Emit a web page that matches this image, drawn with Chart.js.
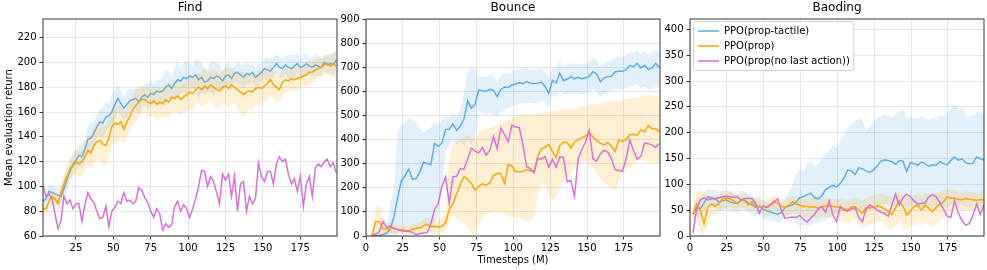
<!DOCTYPE html>
<html><head><meta charset="utf-8">
<script src="https://cdn.jsdelivr.net/npm/chart.js@4.4.1/dist/chart.umd.min.js"></script>
<style>
html,body{margin:0;padding:0;background:#fff;}
body{width:987px;height:270px;position:relative;overflow:hidden;}
canvas{position:absolute;top:0;}
</style>
</head><body>
<canvas id="c1" width="340" height="270" style="left:0px"></canvas>
<canvas id="c2" width="323" height="270" style="left:340px"></canvas>
<canvas id="c3" width="324" height="270" style="left:663px"></canvas>
<script>
const panelTitles = ['Find', 'Bounce', 'Baoding'];
const seriesLabels = ['PPO(prop-tactile)', 'PPO(prop)', 'PPO(prop(no last action))'];
const xAxisLabel = 'Timesteps (M)';
const yAxisLabel = 'Mean evaluation return';

const findXTicks = [25, 50, 75, 100, 125, 150, 175];
const findYTicks = [60, 80, 100, 120, 140, 160, 180, 200, 220];
const bounceXTicks = [0, 25, 50, 75, 100, 125, 150, 175];
const bounceYTicks = [0, 100, 200, 300, 400, 500, 600, 700, 800, 900];
const baodingXTicks = [0, 25, 50, 75, 100, 125, 150, 175];
const baodingYTicks = [0, 50, 100, 150, 200, 250, 300, 350, 400];

// ---- Find ----
const findSteps = [3,5,7,9,11,13,15,17,19,21, 23,25,27,29,31,33,35,37,39,41, 43,45,47,49,51,53,55,57,59,61, 63,65,67,69,71,73,75,77,79,81, 83,85,87,89,91,93,95,97,99,101, 103,105,107,109,111,113,115,117,119,121, 123,125,127,129,131,133,135,137,139,141, 143,145,147,149,151,153,155,157,159,161, 163,165,167,169,171,173,175,177,179,181, 183,185,187,189,191,193,195,197,199];
const findTactile = [88,90,96,95,94,93,92,98,106,112, 118,121,125,124,130,138,139,143,148,152, 151,156,157,160,166,171,167,163,166,169, 170,171,168,172,174,172,175,174,177,176, 177,180,182,179,183,186,185,188,187,189, 188,190,186,188,184,185,188,187,189,188, 185,189,190,187,191,192,190,188,191,190, 192,188,190,192,195,194,193,196,199,196, 195,198,196,195,197,199,196,197,199,197, 196,198,197,196,200,198,199,198,202];
const findTactileSpread = [4,5,6,6,5,6,7,8,8,7, 8,9,8,10,9,11,12,10,9,11, 13,12,10,14,12,11,10,9,11,10, 8,9,10,8,9,11,10,8,9,10, 12,14,11,9,13,15,10,12,14,11, 9,13,16,12,10,9,12,14,11,10, 8,9,10,8,7,9,8,10,9,8, 7,8,9,7,8,10,9,8,7,9, 8,7,10,12,9,8,7,8,9,7, 8,9,8,7,6,8,7,9,8];
const findProp = [82,82,88,92,90,86,95,102,108,114, 116,120,118,120,124,129,127,133,136,137, 134,133,139,148,151,150,152,146,152,156, 162,165,168,170,170,168,167,169,166,168, 167,170,168,172,171,173,170,172,174,176, 175,178,180,178,181,179,182,180,178,177, 180,181,179,182,180,178,176,174,176,177, 176,179,180,179,181,183,186,182,180,178, 184,186,185,187,186,187,188,189,190,192, 192,194,195,196,198,199,197,199,197];
const findPropSpread = [4,5,6,5,6,6,7,8,8,9, 9,10,10,11,12,11,13,14,15,16, 17,16,15,14,16,15,14,13,12,11, 12,13,12,11,10,12,11,12,13,12, 12,13,14,12,11,13,14,12,13,15, 14,13,12,14,15,13,12,14,15,13, 14,15,16,14,13,15,17,18,16,15, 14,13,15,14,12,13,12,11,12,10, 11,10,9,10,9,10,9,8,9,10, 9,8,9,8,7,8,9,10,11];
const findNoLast = [101,92,94,90,78,66,72,92,86,89, 82,86,86,72,85,95,90,87,80,74, 75,84,68,80,83,88,86,95,88,89, 86,88,99,97,91,87,80,75,82,78, 65,70,67,69,84,88,80,85,82,75, 82,90,100,113,112,100,108,104,95,86, 110,105,110,92,108,80,102,104,80,92, 86,90,119,108,104,112,112,102,118,124, 120,122,110,102,106,96,108,84,102,108, 92,115,118,116,120,122,116,119,111];

// ---- Bounce ----
const bounceSteps = [4,6.5,9,11.5,14,16.5,19,21.5,24,26.5, 29,31.5,34,36.5,39,41.5,44,46.5,49,51.5, 54,56.5,59,61.5,64,66.5,69,71.5,74,76.5, 79,81.5,84,86.5,89,91.5,94,96.5,99,101.5, 104,106.5,109,111.5,114,116.5,119,121.5,124,126.5, 129,131.5,134,136.5,139,141.5,144,146.5,149,151.5, 154,156.5,159,161.5,164,166.5,169,171.5,174,176.5, 179,181.5,184,186.5,189,191.5,194,196.5,199];
const bounceTactile = [0,1,3,6,12,30,80,160,230,250, 278,235,238,265,305,302,296,384,372,385, 442,443,465,438,456,486,560,530,546,605, 602,600,608,604,578,608,618,616,626,630, 636,632,640,633,632,634,638,620,592,645, 635,675,645,650,661,652,658,652,656,662, 681,672,640,655,661,662,681,683,683,690, 708,702,716,697,708,690,697,716,700];
const bounceTactileHi = [5,8,12,18,40,130,200,430,460,470, 490,480,470,450,430,440,450,470,460,480, 500,490,510,500,520,600,680,700,690,665, 662,660,668,665,640,668,675,672,682,688, 692,690,698,690,690,692,695,680,660,700, 695,725,705,710,718,712,715,710,715,722, 738,730,705,715,722,725,740,742,745,750, 765,760,770,755,768,752,762,772,765];
const bounceTactileLo = [0,0,0,0,0,0,0,10,20,30, 40,20,25,30,40,50,30,60,80,200, 350,380,400,380,390,380,400,380,400,520, 505,505,510,505,490,515,525,530,540,545, 550,550,555,552,550,555,560,555,530,580, 575,600,585,588,592,588,592,588,590,595, 610,600,575,590,595,600,610,610,605,612, 625,615,630,612,620,605,610,625,615];
const bounceProp = [0,58,60,30,28,35,32,27,26,24, 22,28,32,33,42,48,38,40,37,40, 55,110,135,175,215,246,235,218,190,206, 216,210,220,250,260,258,218,296,290,267, 266,268,276,270,268,330,362,368,380,350, 325,375,390,388,365,390,400,408,415,430, 412,395,385,378,388,372,350,398,392,400, 420,422,418,440,432,458,445,446,432];
const bouncePropHi = [5,120,130,80,60,55,50,45,45,42, 40,48,55,58,70,80,65,70,68,75, 100,330,380,390,400,410,420,410,400,430, 440,445,450,455,460,465,470,480,490,495, 500,505,505,505,508,510,510,512,515,518, 520,522,525,525,528,530,535,538,540,545, 548,550,552,555,558,560,555,562,565,568, 570,572,575,578,580,585,582,580,575];
const bouncePropLo = [0,0,0,0,5,10,10,8,8,6, 5,5,8,8,10,15,12,10,8,10, 20,60,80,70,60,50,30,10,0,40, 80,90,95,100,95,94,90,82,80,78, 76,68,59,65,73,170,220,205,175,150, 160,200,225,240,260,280,295,305,310,295, 285,262,235,218,208,200,190,225,260,280, 287,295,310,315,310,305,300,300,300];
const bounceNoLast = [2,8,18,60,35,42,30,27,22,20, 20,15,5,10,12,14,50,110,135,205, 245,135,246,248,280,276,320,364,352,345, 368,336,355,412,362,447,420,392,460,452, 450,380,287,280,262,322,318,330,285,318, 285,329,325,225,230,165,320,360,390,438, 320,310,340,356,348,322,275,272,268,320, 398,355,318,330,385,383,378,368,384];

// ---- Baoding ----
const baodingSteps = [2,4.5,7,9.5,12,14.5,17,19.5,22,24.5, 27,29.5,32,34.5,37,39.5,42,44.5,47,49.5, 52,54.5,57,59.5,62,64.5,67,69.5,72,74.5, 77,79.5,82,84.5,87,89.5,92,94.5,97,99.5, 102,104.5,107,109.5,112,114.5,117,119.5,122,124.5, 127,129.5,132,134.5,137,139.5,142,144.5,147,149.5, 152,154.5,157,159.5,162,164.5,167,169.5,172,174.5, 177,179.5,182,184.5,187,189.5,192,194.5,197,199.5];
const baodingTactile = [42,55,52,64,76,74,72,66,68,70, 66,64,63,68,70,64,60,56,58,52, 49,47,44,42,45,55,58,60,66,74, 76,80,83,74,72,78,90,94,98,95, 102,112,128,126,119,132,130,126,123,128, 135,145,147,146,144,139,146,145,125,142, 140,137,143,140,135,138,137,144,140,138, 146,153,147,149,142,140,141,153,150,147];
const baodingTactileHi = [60,75,72,84,92,90,90,86,88,88, 86,84,82,86,88,82,78,74,76,70, 66,64,62,60,62,72,85,100,120,130, 125,140,145,135,140,150,160,165,175,170, 185,195,210,215,222,228,225,205,210,222, 228,232,235,233,230,238,240,247,226,232, 228,226,232,230,224,228,226,234,232,238, 245,257,244,250,236,232,234,240,240,238];
const baodingTactileLo = [26,38,34,46,58,56,54,48,50,52, 48,46,45,50,52,46,42,38,40,34, 32,30,28,26,28,38,40,40,25,20, 22,18,22,25,25,28,30,35,40,42, 45,50,52,50,48,52,50,50,50,52, 55,60,62,60,58,55,58,60,52,56, 55,54,56,55,52,54,52,56,55,54, 60,62,58,60,56,55,56,62,60,58];
const baodingProp = [41,62,50,24,55,62,58,62,72,74, 72,68,63,70,68,60,66,58,56,57, 55,60,68,62,58,55,60,66,62,60, 57,57,56,56,54,56,58,58,57,56, 55,53,50,56,57,50,44,55,54,55, 58,57,52,47,42,55,68,58,41,48, 57,60,50,60,54,47,55,62,66,76, 73,73,71,70,73,71,70,69,70,70];
const baodingPropHi = [55,85,90,85,80,78,76,80,86,88, 86,84,80,82,82,76,78,72,70,70, 70,72,80,76,74,72,74,78,76,75, 72,74,75,73,70,72,74,74,72,72, 72,70,68,72,74,70,68,75,76,78, 80,82,80,78,76,82,86,80,72,76, 80,82,78,84,82,80,84,86,88,92, 90,88,86,86,88,86,85,84,86,86];
const baodingPropLo = [30,30,10,0,20,40,42,46,52,56, 56,52,48,54,52,46,50,44,42,42, 40,44,52,46,40,36,40,44,42,40, 38,36,36,36,34,36,38,36,34,32, 30,28,25,30,32,22,15,20,22,24, 26,28,22,15,12,20,30,20,10,15, 22,26,20,28,22,16,22,30,34,48, 50,52,52,50,52,50,50,48,50,50];
const baodingNoLast = [6,52,70,74,70,72,72,74,76,77, 76,75,76,70,72,73,72,64,44,58, 56,60,65,72,50,34,36,37,36,40, 32,27,35,42,52,57,46,68,40,28, 57,50,48,52,55,36,28,52,60,56, 50,46,44,38,60,81,60,74,81,76, 68,62,63,64,76,80,76,65,52,38, 36,68,45,30,21,24,40,62,42,60];

// ---- styling ----
const BLUE = 'rgb(92,172,238)', BLUE_BAND = 'rgba(92,172,238,0.18)';
const ORANGE = 'rgb(255,165,0)', ORANGE_BAND = 'rgba(255,165,0,0.17)';
const PURPLE = 'rgb(218,112,214)';
const FONT = "'DejaVu Sans', sans-serif";

Chart.defaults.font.family = FONT;
Chart.defaults.color = '#000';

function pts(xs, ys) { return xs.map((x, i) => ({x: x, y: ys[i]})); }
function addArr(a, b, s) { return a.map((v, i) => v + s * b[i]); }

function lineDs(label, xs, ys, color, order) {
  return {label: label, data: pts(xs, ys), borderColor: color, backgroundColor: color,
    borderWidth: 1.5, pointRadius: 0, pointHoverRadius: 0, pointBorderWidth: 1.5,
    pointBorderColor: color, tension: 0, fill: false, order: order};
}
function bandDs(xs, ys, color, fill, order) {
  return {label: '', data: pts(xs, ys), borderWidth: 0, borderColor: 'rgba(0,0,0,0)',
    backgroundColor: color, pointRadius: 0, pointHoverRadius: 0, tension: 0, fill: fill, order: order};
}
function buildDatasets(xs, t, tHi, tLo, p, pHi, pLo, n) {
  return [
    lineDs(seriesLabels[0], xs, t, BLUE, 5),
    bandDs(xs, tHi, BLUE_BAND, '+1', 6),
    bandDs(xs, tLo, BLUE_BAND, false, 6),
    lineDs(seriesLabels[1], xs, p, ORANGE, 3),
    bandDs(xs, pHi, ORANGE_BAND, '+1', 4),
    bandDs(xs, pLo, ORANGE_BAND, false, 4),
    lineDs(seriesLabels[2], xs, n, PURPLE, 0)
  ];
}

const spines = {
  id: 'spines',
  afterDatasetsDraw(chart) {
    const a = chart.chartArea, ctx = chart.ctx;
    ctx.save();
    ctx.strokeStyle = '#222';
    ctx.lineWidth = 0.9;
    ctx.strokeRect(a.left, a.top, a.right - a.left, a.bottom - a.top);
    ctx.restore();
  }
};
// keep the legend inside the chart area (top-left) and give it a framed box
const LEGEND_FONT = 10, LEGEND_LINE = 21, LEGEND_PAD = 5;
const legendFrame = {
  id: 'legendFrame',
  afterLayout(chart) {
    const lg = chart.legend, a = chart.chartArea;
    if (!lg || !lg.options.display) return;
    const h = lg.bottom - lg.top;
    lg.top = a.top + 2; lg.bottom = lg.top + h;
    lg.left = a.left + 3;
  },
  afterDraw(chart) {
    const lg = chart.legend;
    if (!lg || !lg.options.display || !lg.legendItems || !lg.legendItems.length) return;
    const ctx = chart.ctx;
    ctx.save();
    ctx.font = LEGEND_FONT + 'px ' + FONT;
    let textW = 0;
    lg.legendItems.forEach(it => { textW = Math.max(textW, ctx.measureText(it.text).width); });
    const n = lg.legendItems.length;
    const l = lg.left + LEGEND_PAD, t = lg.top + LEGEND_PAD;
    const w = LEGEND_LINE + LEGEND_FONT / 2 + textW;
    const hgt = n * LEGEND_FONT + (n - 1) * LEGEND_PAD;
    ctx.beginPath();
    ctx.roundRect(l - 4.3, t - 4.5, w + 8.3, hgt + 9, 2.5);
    ctx.fillStyle = '#fff';
    ctx.fill();
    ctx.strokeStyle = '#cfcfcf';
    ctx.lineWidth = 1;
    ctx.stroke();
    ctx.restore();
    lg.draw();
  }
};

function makeScales(xMin, xMax, yMin, yMax, xTicks, yTicks, yWidth, xTitle, yTitle) {
  const grid = {color: '#e6e6e6', lineWidth: 1, tickColor: '#222', tickLength: 3.5, tickWidth: 0.9, drawTicks: true};
  return {
    x: {
      type: 'linear', min: xMin, max: xMax,
      afterBuildTicks: s => { s.ticks = xTicks.map(v => ({value: v})); },
      afterFit: s => { s.height = 34; },
      grid: grid, border: {display: false},
      ticks: {padding: 3, color: '#000', font: {size: 10}, maxRotation: 0, autoSkip: false},
      title: xTitle ? {display: true, text: xTitle, color: '#000', font: {size: 10}, padding: {top: 0, bottom: 3.5}} : {display: false}
    },
    y: {
      type: 'linear', min: yMin, max: yMax,
      afterBuildTicks: s => { s.ticks = yTicks.map(v => ({value: v})); },
      afterFit: s => { s.width = yWidth; },
      grid: grid, border: {display: false},
      ticks: {padding: 3, color: '#000', font: {size: 10}, autoSkip: false},
      title: yTitle ? {display: true, text: yTitle, color: '#000', font: {size: 10}, padding: {top: 3, bottom: 0}} : {display: false}
    }
  };
}

function makeChart(id, title, datasets, scales, showLegend) {
  return new Chart(document.getElementById(id), {
    type: 'line',
    data: {datasets: datasets},
    options: {
      responsive: false, animation: false, events: [],
      layout: {padding: {left: 0, right: 3, top: 0, bottom: 0}},
      scales: scales,
      plugins: {
        title: {display: true, text: title, color: '#000', fullSize: false,
          font: {size: 12, weight: 'normal'}, padding: {top: 1, bottom: 3.6}},
        legend: showLegend ? {
          display: true, position: 'chartArea', align: 'start',
          labels: {usePointStyle: true, pointStyle: 'line', pointStyleWidth: LEGEND_LINE,
            color: '#000', font: {size: LEGEND_FONT}, padding: LEGEND_PAD,
            filter: item => item.text !== '',
            sort: (a, b) => a.datasetIndex - b.datasetIndex}
        } : {display: false},
        tooltip: {enabled: false}
      }
    },
    plugins: showLegend ? [spines, legendFrame] : [spines]
  });
}

makeChart('c1', panelTitles[0],
  buildDatasets(findSteps, findTactile, addArr(findTactile, findTactileSpread, 1), addArr(findTactile, findTactileSpread, -1),
    findProp, addArr(findProp, findPropSpread, 1), addArr(findProp, findPropSpread, -1), findNoLast),
  makeScales(3, 199.5, 60, 235, findXTicks, findYTicks, 43, null, yAxisLabel), false);

makeChart('c2', panelTitles[1],
  buildDatasets(bounceSteps, bounceTactile, bounceTactileHi, bounceTactileLo, bounceProp, bouncePropHi, bouncePropLo, bounceNoLast),
  makeScales(0, 199.5, 0, 900, bounceXTicks, bounceYTicks, 26, xAxisLabel, null), false);

makeChart('c3', panelTitles[2],
  buildDatasets(baodingSteps, baodingTactile, baodingTactileHi, baodingTactileLo, baodingProp, baodingPropHi, baodingPropLo, baodingNoLast),
  makeScales(0, 199.5, 0, 420, baodingXTicks, baodingYTicks, 27, null, null), true);
</script>
</body></html>
